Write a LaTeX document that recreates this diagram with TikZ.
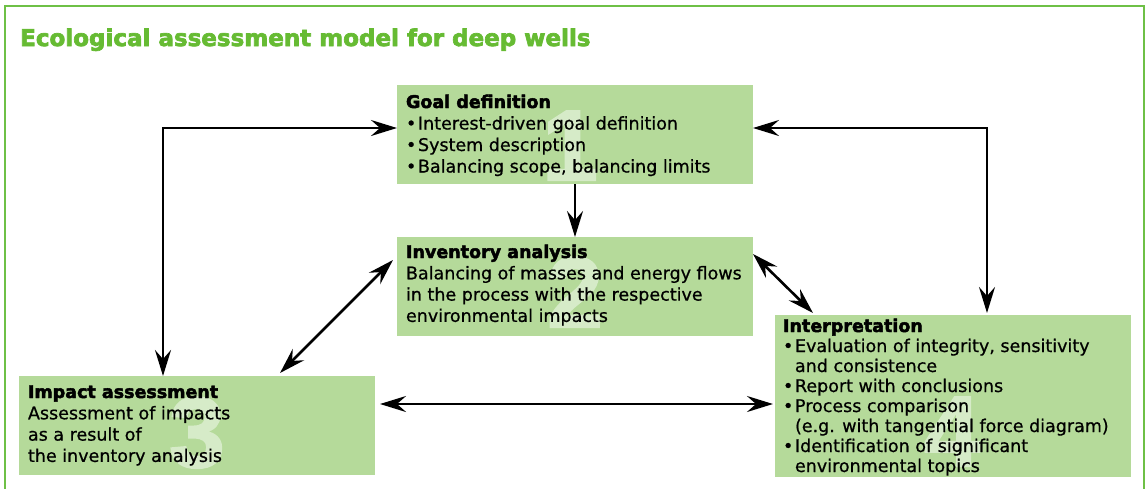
\documentclass[tikz,border=0pt]{standalone}
\usepackage{fontspec}
\setmainfont{DejaVu Sans}[FakeBold=0.7, BoldFeatures={FakeBold=2}]
\newfontfamily\titlefont{DejaVu Sans Bold}[FakeBold=3]
\newfontfamily\headfont{DejaVu Sans Bold}[FakeBold=2.5]
\newfontfamily\numfont{Liberation Sans Bold}[FakeBold=2]
\usetikzlibrary{arrows.meta}
\definecolor{boxgreen}{RGB}{181,218,154}
\definecolor{numgreen}{RGB}{214,235,200}
\definecolor{titlegreen}{RGB}{102,187,51}
\definecolor{framegreen}{RGB}{110,192,70}
% a column of lines, baseline at the first line
\newcommand{\txtlines}[2]{\vtop{\baselineskip=#1\lineskiplimit=-30pt\lineskip=0pt #2}}
\newcommand{\bul}{\makebox[12pt][l]{•}}
\newcommand{\ind}{\hspace*{12pt}}
\newcommand{\head}[1]{\hbox{\headfont #1}}
\begin{document}
\begin{tikzpicture}[x=1pt,y=-1pt,
  stage/.style={fill=boxgreen, draw=none, inner sep=0pt, outer sep=0pt, anchor=north west},
  txt/.style={anchor=base west, inner sep=0pt, outer sep=0pt, font=\fontsize{17.5}{21}\selectfont},
  numeral/.style={anchor=base, inner sep=0pt, text=numgreen, font=\fontsize{100}{100}\selectfont\numfont},
  link/.style={line width=2.6pt, {Stealth[length=26pt,width=16pt,inset=9pt]}-{Stealth[length=26pt,width=16pt,inset=9pt]}},
  onelink/.style={line width=2.6pt, -{Stealth[length=26pt,width=16pt,inset=9pt]}}]
\useasboundingbox (0,0) rectangle (1148,488);

% frame, open at the bottom
\draw[framegreen, line width=2.8pt] (5,492) -- (5,6) -- (1144,6) -- (1144,492);

\node[anchor=base west, inner sep=0pt, text=titlegreen, font=\fontsize{23}{23}\selectfont\titlefont] (title) at (20,46) {Ecological assessment model for deep wells};

% stage boxes
\node[stage, minimum width=356pt, minimum height=99pt] (goal) at (397,85) {};
\node[stage, minimum width=356pt, minimum height=99pt] (inv) at (397,237) {};
\node[stage, minimum width=356pt, minimum height=99pt] (impact) at (19,376) {};
\node[stage, minimum width=356pt, minimum height=162pt] (interp) at (775,315) {};

% large stage numbers
\begin{scope}
  \clip (goal.north west) rectangle (goal.south east);
  \node[numeral] (n1) at (570,180) {1};
\end{scope}
\begin{scope}
  \clip (inv.north west) rectangle (inv.south east);
  \node[numeral] (n2) at (575,327) {2};
\end{scope}
\begin{scope}
  \clip (impact.north west) rectangle (impact.south east);
  \node[numeral] (n3) at (197,467) {3};
\end{scope}
\begin{scope}
  \clip (interp.north west) rectangle (interp.south east);
  \node[numeral] (n4) at (952,466) {4};
\end{scope}

% stage texts
\node[txt] (goaltxt) at (406,108) {\txtlines{21.5pt}{%
  \head{Goal definition}
  \hbox{\bul Interest-driven goal definition}
  \hbox{\bul System description}
  \hbox{\bul Balancing scope, balancing limits}}};
\node[txt] (invtxt) at (406,258) {\txtlines{21.3pt}{%
  \head{Inventory analysis}
  \hbox{Balancing of masses and energy flows}
  \hbox{in the process with the respective}
  \hbox{environmental impacts}}};
\node[txt] (impacttxt) at (28,398) {\txtlines{21.3pt}{%
  \head{Impact assessment}
  \hbox{Assessment of impacts}
  \hbox{as a result of}
  \hbox{the inventory analysis}}};
\node[txt] (interptxt) at (783,332) {\txtlines{20pt}{%
  \head{Interpretation}
  \hbox{\bul Evaluation of integrity, sensitivity}
  \hbox{\ind and consistence}
  \hbox{\bul Report with conclusions}
  \hbox{\bul Process comparison}
  \hbox{\ind (e.g. with tangential force diagram)}
  \hbox{\bul Identification of significant}
  \hbox{\ind environmental topics}}};

% connectors
\coordinate (lc) at (163,128);
\coordinate (rc) at (987,128);
\draw[link] (goal.west |- lc) -| (impact.north -| lc);
\draw[link] (goal.east |- rc) -| ([yshift=2pt]interp.north -| rc);
\draw[onelink] (goal.south) -- (inv.north);
\draw[link] ([shift={(-4,23)}]inv.north west) -- ([shift={(-95,-3)}]impact.north east);
\draw[link] ([shift={(0,17)}]inv.north east) -- ([shift={(38,-2)}]interp.north west);
\coordinate (hl) at ([shift={(5,28)}]impact.north east);
\coordinate (hr) at ([xshift=-2pt]hl -| interp.west);
\draw[link] (hl) -- (hr);
\end{tikzpicture}
\end{document}
